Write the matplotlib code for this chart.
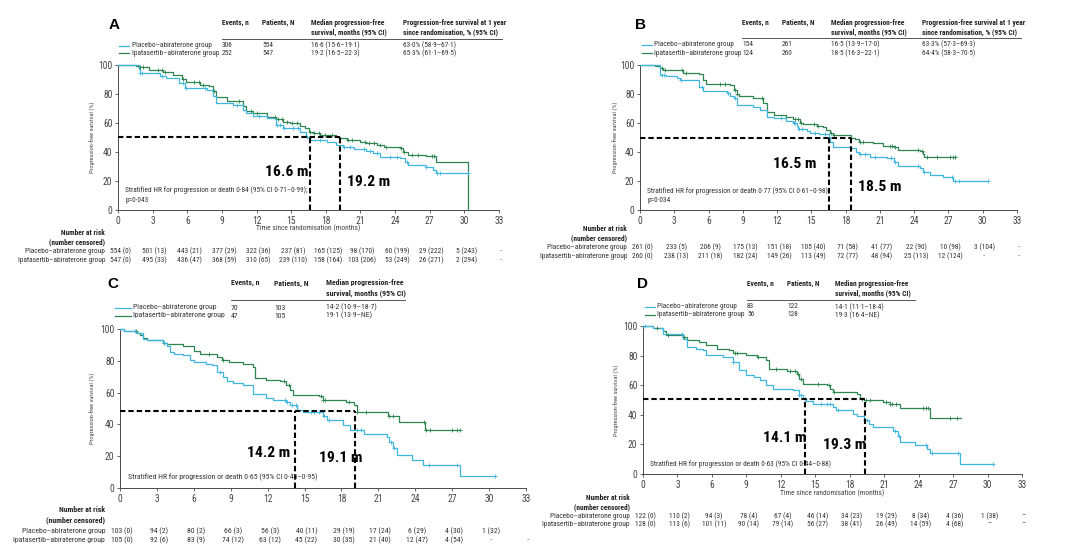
import os
import numpy as np
import matplotlib
matplotlib.use('Agg')
import matplotlib.pyplot as plt
import matplotlib.font_manager as fm
from matplotlib.font_manager import FontProperties
from matplotlib.textpath import TextPath
from matplotlib.lines import Line2D

# ---------------- data ----------------
x_ticks = list(range(0, 34, 3))
y_ticks = [0, 20, 40, 60, 80, 100]
groups = ['Placebo–abiraterone group', 'Ipatasertib–abiraterone group']

# Panel A
A_pla_t = [0, 1.8, 1.9, 3.6, 4.2, 5.3, 5.8, 7.7, 8.2, 8.5, 10.0, 10.8, 11.1, 11.7, 12.9, 13.7, 14.3, 15.8, 16.3, 16.6, 18.1, 18.9, 19.5, 20.4, 21.5, 22.1, 22.7, 24.4, 24.9, 25.1, 26.7, 27.3, 27.5, 30.3]
A_pla_s = [100, 97, 94.5, 92.6, 91, 87.5, 84, 83, 78.3, 74, 72.5, 69, 66.7, 65, 63.3, 58.7, 56.4, 54, 50.6, 48.3, 47, 44.8, 43.2, 41.8, 40.9, 39, 36.7, 35.6, 33.3, 31, 29.8, 27.5, 25.2, 25.2]
A_ipa_t = [0, 1.6, 1.9, 2.7, 3.9, 4.8, 5.5, 5.9, 7.1, 7.9, 8.2, 8.5, 9.4, 10.8, 11.1, 11.7, 12.9, 13.7, 14.3, 14.9, 15.8, 16.2, 16.5, 16.9, 17.5, 18.9, 19.2, 19.8, 21.0, 21.5, 22.4, 23.0, 24.4, 24.7, 25.1, 26.7, 27.5, 30.3]
A_ipa_s = [100, 99, 98.6, 96.8, 95, 93.3, 90.3, 88, 86.4, 85.7, 81.8, 77.6, 75.5, 71.4, 68.4, 66.7, 64.4, 62.6, 61, 59.8, 57.9, 56.4, 54, 52.9, 51.7, 50.6, 49.4, 48.3, 47, 46, 44.8, 43.2, 42.5, 40.2, 37.9, 37.2, 33.3, 0]
A_pla_c = [1.9, 2.1, 3.8, 5.6, 5.9, 7.5, 10.3, 12.2, 13.8, 14.0, 14.4, 15.2, 15.6, 16.4, 17.5, 19.6, 20.1, 21.3, 21.8, 22.4, 23.6, 24.2, 25.0, 26.7, 27.6, 27.9, 30.3]
A_ipa_c = [1.9, 2.2, 3.5, 3.8, 4.1, 5.6, 6.6, 7.0, 7.4, 8.3, 10.5, 11.5, 12.0, 13.6, 13.9, 14.2, 14.6, 15.1, 15.5, 16.6, 17.0, 17.4, 17.9, 18.5, 19.9, 20.3, 21.4, 21.7, 22.2, 22.7, 23.2, 24.5, 24.8, 25.5, 26.0, 27.2, 27.4]
A_medians = [16.6, 19.2]
A_median_labels = ['16.6 m', '19.2 m']
A_events = ['306', '252']
A_patients = ['554', '547']
A_median_ci = ['16·6 (15·6–19·1)', '19·2 (16·5–22·3)']
A_pfs1y = ['63·0% (58·9–67·1)', '65·3% (61·1–69·5)']
A_hr = ['Stratified HR for progression or death 0·84 (95% CI 0·71–0·99);', 'p=0·043']
A_risk_pla = ['554 (0)', '501 (13)', '443 (21)', '377 (29)', '322 (36)', '237 (81)', '165 (125)', '98 (170)', '60 (199)', '29 (222)', '5 (243)', '··']
A_risk_ipa = ['547 (0)', '495 (33)', '436 (47)', '368 (59)', '310 (65)', '239 (110)', '158 (164)', '103 (206)', '53 (249)', '26 (271)', '2 (294)', '··']

# Panel B
B_pla_t = [0, 1.75, 2.3, 3.2, 3.5, 5.2, 5.5, 7.6, 7.9, 8.2, 8.5, 9.9, 10.5, 11.1, 11.7, 12.8, 13.4, 13.7, 13.8, 14.6, 14.9, 15.7, 16.5, 16.6, 16.9, 18.4, 18.9, 19.2, 20.1, 21.6, 22.2, 22.6, 24.5, 24.8, 25.4, 26.5, 27.4, 30.5]
B_pla_s = [100, 92.9, 92.2, 91.3, 89.5, 84.9, 82.2, 81, 78.7, 76.9, 72.3, 70.7, 68.9, 64.3, 63.2, 61.6, 59.7, 57.9, 55.6, 54.7, 53.3, 52.4, 50.6, 47.1, 43.7, 42.6, 40.3, 38.7, 36.8, 35.7, 33.4, 30.4, 28.8, 26.5, 24.3, 23.1, 19.7, 19.7]
B_ipa_t = [0, 1.3, 1.75, 2.0, 3.8, 5.2, 5.5, 5.8, 7.9, 8.2, 8.5, 8.7, 9.9, 10.8, 11.1, 11.7, 12.8, 13.4, 14.0, 14.3, 15.5, 16.0, 16.3, 16.6, 16.9, 18.5, 18.8, 19.2, 20.4, 21.3, 22.2, 22.6, 24.5, 24.8, 24.9, 27.7]
B_ipa_s = [100, 99, 98.2, 96.8, 94.5, 93.6, 89.5, 87.2, 86, 82.6, 80.3, 78.7, 76.9, 73.5, 67.7, 65.4, 64.3, 62.5, 60.2, 59, 57.9, 57, 55.1, 53.3, 51.7, 50, 48.7, 47.1, 46, 44.2, 43.2, 41.4, 41, 38.7, 36.8, 36.8]
B_pla_c = [1.9, 2.1, 3.6, 5.4, 7.7, 8.3, 12.3, 13.5, 13.6, 13.9, 14.2, 15.3, 16.2, 19.3, 19.7, 20.6, 22.0, 22.3, 24.3, 24.9, 27.3, 27.6, 27.9, 30.5]
B_ipa_c = [1.9, 2.2, 3.7, 4.0, 7.0, 7.4, 8.3, 8.5, 10.7, 13.6, 13.8, 14.1, 15.2, 15.6, 16.7, 17.0, 19.3, 19.5, 21.9, 22.1, 22.3, 24.3, 24.7, 25.1, 26.0, 27.1, 27.4, 27.6]
B_medians = [16.5, 18.5]
B_median_labels = ['16.5 m', '18.5 m']
B_events = ['154', '124']
B_patients = ['261', '260']
B_median_ci = ['16·5 (13·9–17·0)', '18·5 (16·3–22·1)']
B_pfs1y = ['63·3% (57·3–69·3)', '64·4% (58·3–70·5)']
B_hr = ['Stratified HR for progression or death 0·77 (95% CI 0·61–0·98);', 'p=0·034']
B_risk_pla = ['261 (0)', '233 (5)', '206 (9)', '175 (13)', '151 (18)', '105 (40)', '71 (58)', '41 (77)', '22 (90)', '10 (98)', '3 (104)', '··']
B_risk_ipa = ['260 (0)', '238 (13)', '211 (18)', '182 (24)', '149 (26)', '113 (49)', '72 (77)', '48 (94)', '25 (113)', '12 (124)', '··', '··']

# Panel C
C_pla_t = [0, 0.3, 1.35, 1.9, 2.2, 3.5, 3.8, 4.1, 4.4, 5.1, 5.7, 6.0, 7.0, 7.5, 7.9, 8.4, 8.7, 9.2, 10.0, 10.8, 11.9, 12.4, 13.5, 13.8, 14.4, 14.9, 16.5, 16.8, 18.1, 18.7, 19.8, 21.7, 21.9, 22.2, 22.5, 23.7, 24.6, 27.6, 30.5]
C_pla_s = [100, 98.7, 97.5, 93.9, 92.9, 91.2, 89.1, 85.5, 84.5, 83.4, 80.7, 79.2, 78.2, 77.2, 73, 69.8, 67.3, 66, 64.6, 59.3, 56.8, 55.6, 54.1, 52, 49.3, 47.8, 45, 42.9, 39.4, 36.7, 33.8, 32.1, 29, 25.4, 20.5, 17.4, 14.3, 7.3, 7.3]
C_ipa_t = [0, 0.3, 1.35, 1.6, 1.9, 2.2, 3.5, 3.8, 5.1, 6.0, 6.5, 7.9, 8.3, 8.9, 10.0, 10.8, 11.0, 11.9, 13.0, 13.5, 13.8, 14.1, 16.2, 16.5, 18.4, 19.0, 19.3, 21.8, 22.7, 24.8, 27.6]
C_ipa_s = [100, 98.7, 97.5, 96, 94.5, 92.9, 91.2, 90.4, 89.1, 86.2, 84.5, 82.4, 80.3, 79.2, 78.2, 76.1, 69.2, 68.1, 67.1, 64.6, 61.4, 58.7, 57.7, 55.1, 54.1, 52, 47.8, 45, 41.5, 36.3, 36.3]
C_pla_c = [1.2, 3.6, 8.1, 13.4, 13.6, 14.0, 14.3, 15.5, 15.8, 16.2, 16.6, 17.0, 19.3, 19.6, 22.0, 22.3, 25.1, 27.4, 30.5]
C_ipa_c = [1.3, 3.6, 7.2, 8.4, 13.3, 13.7, 16.3, 16.5, 16.7, 18.6, 19.3, 20.0, 21.9, 22.2, 24.7, 24.9, 25.2, 27.0, 27.4, 27.6]
C_medians = [14.2, 19.1]
C_median_labels = ['14.2 m', '19.1 m']
C_events = ['70', '47']
C_patients = ['103', '105']
C_median_ci = ['14·2 (10·9–18·7)', '19·1 (13·9–NE)']
C_hr = ['Stratified HR for progression or death 0·65 (95% CI 0·45–0·95)']
C_risk_pla = ['103 (0)', '94 (2)', '80 (2)', '66 (3)', '56 (3)', '40 (11)', '29 (19)', '17 (24)', '6 (29)', '4 (30)', '1 (32)']
C_risk_ipa = ['105 (0)', '92 (6)', '83 (9)', '74 (12)', '63 (12)', '45 (22)', '30 (35)', '21 (40)', '12 (47)', '4 (54)', '··', '··']

# Panel D
D_pla_t = [0, 0.9, 1.7, 3.5, 3.8, 4.6, 5.2, 5.5, 7.0, 7.8, 8.4, 9.0, 9.7, 10.2, 10.7, 11.3, 13.1, 13.6, 13.9, 14.2, 14.8, 16.5, 16.8, 18.3, 18.6, 19.2, 19.7, 20.0, 21.8, 22.2, 22.4, 23.7, 24.7, 25.0, 27.6, 30.5]
D_pla_s = [100, 98.9, 94.8, 91.4, 85.8, 84.7, 83.6, 80.2, 79, 75.7, 70, 66.7, 65.5, 63.3, 59.9, 57.7, 56.5, 53.2, 50.9, 49.3, 47.5, 45.3, 43.5, 40.8, 39, 36.7, 34, 31.8, 29.1, 25.5, 21.6, 19.4, 17.1, 14.2, 7, 7]
D_ipa_t = [0, 0.9, 1.7, 2.0, 3.5, 3.8, 4.9, 5.5, 6.4, 7.5, 7.8, 9.0, 9.9, 10.7, 11.0, 12.5, 13.4, 13.6, 13.9, 16.0, 16.3, 16.5, 18.6, 18.9, 19.2, 20.9, 21.5, 22.4, 25.0, 27.7]
D_ipa_s = [100, 98.9, 96.6, 93.7, 92.6, 90.8, 89.2, 86.9, 84.7, 83.6, 81.8, 80.2, 79, 77.3, 71.2, 69.4, 67.8, 64.4, 61, 59.9, 57.7, 55.4, 53.8, 50.9, 49.8, 48.6, 47.5, 44.8, 38.1, 38.1]
D_pla_c = [0.2, 3.4, 7.8, 13.6, 13.8, 14.1, 15.5, 16.0, 16.3, 17.0, 19.3, 19.5, 21.9, 22.3, 24.6, 25.2, 27.4, 30.5]
D_ipa_c = [1.2, 2.2, 3.6, 8.0, 8.2, 10.0, 11.6, 12.8, 13.2, 13.5, 13.8, 15.2, 16.2, 16.6, 19.1, 19.4, 19.8, 21.2, 21.5, 21.7, 22.0, 24.4, 24.6, 24.8, 26.7, 27.3]
D_medians = [14.1, 19.3]
D_median_labels = ['14.1 m', '19.3 m']
D_events = ['83', '56']
D_patients = ['122', '128']
D_median_ci = ['14·1 (11·1–18·4)', '19·3 (16·4–NE)']
D_hr = ['Stratified HR for progression or death 0·63 (95% CI 0·44–0·88)']
D_risk_pla = ['122 (0)', '110 (2)', '94 (3)', '78 (4)', '67 (4)', '46 (14)', '34 (23)', '19 (29)', '8 (34)', '4 (36)', '1 (38)', '–']
D_risk_ipa = ['128 (0)', '113 (6)', '101 (11)', '90 (14)', '79 (14)', '56 (27)', '38 (41)', '26 (49)', '14 (59)', '4 (68)', '–', '–']

# ---------------- fonts (pick a condensed sans if one is installed) ----------------
_EXCL = ['semi', 'extra', 'ultra', 'light', 'medium', 'black', 'thin', 'italic', 'oblique', 'mono', 'display', 'cjk']


def _weight(f):
    w = f.weight
    if isinstance(w, str):
        w = fm.weight_dict.get(w, 400)
    return int(w)


def _find(names, token, bold):
    for f in fm.fontManager.ttflist:
        key = (f.name + ' ' + os.path.basename(f.fname)).lower()
        if f.name.lower() not in names:
            continue
        if token and token not in key:
            continue
        if f.style != 'normal' or any(x in os.path.basename(f.fname).lower() for x in _EXCL):
            continue
        w = _weight(f)
        if (bold and w == 700) or ((not bold) and w == 400):
            return f.fname
    return None


_cands = [({'roboto condensed', 'roboto'}, 'condensed'),
          ({'liberation sans narrow'}, None),
          ({'noto sans', 'noto sans condensed'}, 'condensed'),
          ({'dejavu sans condensed', 'dejavu sans'}, 'condensed'),
          ({'open sans condensed', 'open sans'}, 'condensed'),
          ({'arial narrow'}, None),
          ({'liberation sans'}, None),
          ({'dejavu sans'}, None)]
REG = BOLD = None
for names, tok in _cands:
    r = _find(names, tok, False)
    if r:
        REG = r
        BOLD = _find(names, tok, True)
        break
if BOLD is None:
    BOLD = _find({'liberation sans'}, None, True) or _find({'dejavu sans'}, None, True) or REG
LETTER = _find({'liberation sans'}, None, True) or BOLD


def text_w(s, fname, size):
    tp = TextPath((0, 0), s, prop=FontProperties(fname=fname, size=size))
    return tp.get_extents().width * 100 / 72


S_BODY = float(np.clip(5.5 * 87 / text_w(groups[1], REG, 5.5), 4.3, 7.5))
S_TICK = float(np.clip(5.0 * 13 / text_w('100', REG, 5.0), 4.3, 7.5))
S_BIG = float(np.clip(9.0 * 41 / text_w('16.6 m', BOLD, 9.0), 7.5, 12))


def FP(size, bold=False, fname=None):
    return FontProperties(fname=fname or (BOLD if bold else REG), size=size)


# ---------------- style ----------------
BLUE = '#3fb6e0'
GREEN = '#2e8550'
GREY = '#4a4a4a'
TXT = '#333333'
W, H = 1080, 559
fig = plt.figure(figsize=(W / 100, H / 100), dpi=100)


def fx(px):
    return px / W


def fy(py):
    return 1 - py / H


def T(x, y, s, size, bold=False, ha='left', va='center', color=TXT, **kw):
    fig.text(fx(x), fy(y), s, fontproperties=FP(size, bold), ha=ha, va=va, color=color, **kw)


def make_ax(x0, x1, ytop, ybot):
    ax = fig.add_axes([fx(x0), fy(ybot), (x1 - x0) / W, (ybot - ytop) / H])
    ax.set_xlim(0, 33)
    ax.set_ylim(0, 100)
    ax.set_xticks(x_ticks, labels=[str(v) for v in x_ticks], fontproperties=FP(S_TICK))
    ax.set_yticks(y_ticks, labels=[str(v) for v in y_ticks], fontproperties=FP(S_TICK))
    for sp in ['top', 'right']:
        ax.spines[sp].set_visible(False)
    for sp in ['left', 'bottom']:
        ax.spines[sp].set_color(GREY)
        ax.spines[sp].set_linewidth(0.7)
    ax.tick_params(length=2.5, width=0.6, color=GREY, labelcolor='#444444', pad=1.5)
    ax.patch.set_alpha(0)
    return ax


def km(ax, t, s, cens, color):
    assert len(t) == len(s)
    ax.step(t, s, where='post', color=color, lw=0.9, clip_on=False, zorder=3)
    t = np.asarray(t)
    s = np.asarray(s)
    c = np.asarray(cens)
    idx = np.searchsorted(t, c, side='right') - 1
    ax.plot(c, s[idx], ls='none', marker='+', ms=3.2, mew=0.6, color=color, clip_on=False, zorder=4)


def medlines(ax, meds, level):
    kw = dict(color='k', lw=1.5, ls=(0, (2.6, 1.4)), zorder=5, clip_on=False)
    ax.plot([0, max(meds)], [level, level], **kw)
    for m in meds:
        ax.plot([m, m], [0, level], **kw)


def header(letter, lx, ly, cols, heads, hy, rows_vals, ry, line_x, text_x, ul_x1, ul_y, fs):
    fig.text(fx(lx), fy(ly), letter, fontproperties=FP(11, fname=LETTER), ha='center', va='center')
    for x, h in zip(cols, heads):
        for k, line in enumerate(h.split('\n')):
            T(x, hy[k], line, fs, bold=True, color='#222222')
    fig.add_artist(Line2D([fx(cols[0]), fx(ul_x1)], [fy(ul_y), fy(ul_y)], color='#555555', lw=0.7))
    colors = [BLUE, GREEN]
    for i in range(2):
        y = ry[i]
        fig.add_artist(Line2D([fx(line_x[0]), fx(line_x[1])], [fy(y), fy(y)], color=colors[i], lw=0.9))
        T(text_x, y, groups[i], fs)
        for x, vals in zip(cols, rows_vals):
            T(x, y, vals[i], fs)


def risk_table(ax, label_x, ys, pla, ipa, fs):
    T(label_x, ys[0], 'Number at risk', fs, bold=True, ha='right', color='#222222')
    T(label_x, ys[1], '(number censored)', fs, bold=True, ha='right', color='#222222')
    T(label_x, ys[2], groups[0], fs, ha='right')
    T(label_x, ys[3], groups[1], fs, ha='right')
    x0, x1 = ax.get_position().x0 * W, ax.get_position().x1 * W
    for vals, y in [(pla, ys[2]), (ipa, ys[3])]:
        for x, v in zip(x_ticks, vals):
            px = x0 + (x1 - x0) * x / 33.0 + 2
            T(px, y, v, fs, ha='center')


def ylab(ax, x):
    bb = ax.get_position()
    fig.text(fx(x), (bb.y0 + bb.y1) / 2, 'Progression-free survival (%)', rotation=90,
             fontproperties=FP(S_BODY * 0.85), ha='center', va='center', color='#444444')


def xlab(ax, y):
    bb = ax.get_position()
    T(((bb.x0 + bb.x1) / 2) * W, y, 'Time since randomisation (months)', S_BODY, ha='center', color='#444444')


def big(x, y, s):
    fig.text(fx(x), fy(y), s, fontproperties=FP(S_BIG, bold=True), ha='left', va='center',
             color='k', zorder=6)


heads4 = ['Events, n', 'Patients, N', 'Median progression-free\nsurvival, months (95% CI)',
          'Progression-free survival at 1 year\nsince randomisation, % (95% CI)']

# ---------------- Panel A ----------------
axA = make_ax(118, 499, 65, 210)
km(axA, A_ipa_t, A_ipa_s, A_ipa_c, GREEN)
km(axA, A_pla_t, A_pla_s, A_pla_c, BLUE)
medlines(axA, A_medians, 50.5)
big(265, 172, A_median_labels[0])
big(347, 182, A_median_labels[1])
T(125, 190, A_hr[0], S_BODY)
T(125, 200, A_hr[1], S_BODY)
header('A', 114, 25, [222, 262, 311, 403], heads4, [23, 32],
       [A_events, A_patients, A_median_ci, A_pfs1y], [45.7, 53.3], (119, 129), 132, 502, 39, S_BODY)
ylab(axA, 93)
xlab(axA, 228)
risk_table(axA, 105, [233, 242, 251.5, 260.5], A_risk_pla, A_risk_ipa, S_BODY)

# ---------------- Panel B ----------------
axB = make_ax(640, 1017, 65, 210)
km(axB, B_ipa_t, B_ipa_s, B_ipa_c, GREEN)
km(axB, B_pla_t, B_pla_s, B_pla_c, BLUE)
medlines(axB, B_medians, 50)
big(773, 164, B_median_labels[0])
big(858, 187, B_median_labels[1])
T(647, 190.7, B_hr[0], S_BODY)
T(647, 200, B_hr[1], S_BODY)
header('B', 641, 25, [742, 782, 831, 922], heads4, [23, 32],
       [B_events, B_patients, B_median_ci, B_pfs1y], [44.7, 53.3], (642, 652), 654, 1021, 38, S_BODY)
ylab(axB, 616)
risk_table(axB, 627, [229, 238.5, 247.7, 256.7], B_risk_pla, B_risk_ipa, S_BODY)

# ---------------- Panel C ----------------
axC = make_ax(120, 526, 329, 488)
km(axC, C_ipa_t, C_ipa_s, C_ipa_c, GREEN)
km(axC, C_pla_t, C_pla_s, C_pla_c, BLUE)
medlines(axC, C_medians, 48.5)
big(247, 453, C_median_labels[0])
big(319, 458, C_median_labels[1])
T(128, 476.7, C_hr[0], S_BODY * 1.05)
header('C', 113, 284, [231, 274, 326], heads4[:3], [283, 293],
       [C_events, C_patients, C_median_ci], [307.5, 315.5], (115, 131), 133, 405, 299.5, S_BODY * 1.05)
ylab(axC, 93)
risk_table(axC, 105, [510, 520, 531, 540], C_risk_pla, C_risk_ipa, S_BODY * 1.05)

# ---------------- Panel D ----------------
axD = make_ax(643, 1022, 326, 474)
km(axD, D_ipa_t, D_ipa_s, D_ipa_c, GREEN)
km(axD, D_pla_t, D_pla_s, D_pla_c, BLUE)
medlines(axD, D_medians, 51)
big(763, 438, D_median_labels[0])
big(823, 445, D_median_labels[1])
T(650, 464, D_hr[0], S_BODY)
header('D', 643, 284, [747, 787, 835], heads4[:3], [284, 293.5],
       [D_events, D_patients, D_median_ci], [307, 315], (645, 655), 657, 915, 300, S_BODY)
ylab(axD, 617)
xlab(axD, 493)
risk_table(axD, 630, [498, 507, 516, 524], D_risk_pla, D_risk_ipa, S_BODY)

fig.savefig('out.png', dpi=100)
